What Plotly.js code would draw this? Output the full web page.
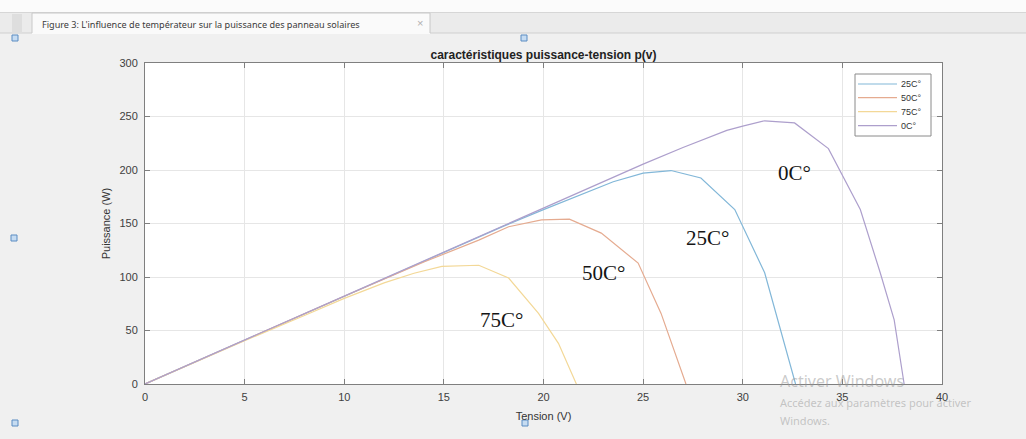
<!DOCTYPE html>
<html>
<head>
<meta charset="utf-8">
<script src="https://cdn.plot.ly/plotly-3.0.1.min.js"></script>
<style>html,body{margin:0;padding:0;background:#f0f0f0;}#chart{width:1026px;height:439px;}</style>
</head>
<body>
<div id="chart"></div>
<script>
// ---- data ----
const seriesNames = ["25C°", "50C°", "75C°", "0C°"];

const volt_25C = [0, 5, 10, 15, 18, 20, 22, 23.5, 25, 26.4, 27.9, 29.6, 31.1, 32.65];
const pow_25C  = [0, 41, 82.2, 123, 147.5, 163, 178, 189, 197, 199.5, 192.5, 163, 104, 0];

const volt_50C = [0, 5, 10, 14, 16.75, 18.25, 19.9, 21.3, 22.9, 24.75, 25.9, 27.15];
const pow_50C  = [0, 41, 82, 114, 134.5, 147, 153.3, 154, 141, 113, 66, 0];

const volt_75C = [0, 5, 8, 10, 12, 13.5, 14.9, 16.75, 18.25, 19.75, 20.75, 21.65];
const pow_75C  = [0, 40.5, 64, 80, 94.5, 103.5, 110, 111, 99, 66, 38, 0];

const volt_0C  = [0, 5, 10, 15, 20, 25, 27, 29.2, 30, 31.1, 32.6, 34.3, 35.9, 36.9, 37.6, 38.1];
const pow_0C   = [0, 41, 82.3, 123.5, 164.6, 205.5, 221, 237, 241, 246, 244, 220, 163, 104, 60, 0];

const curveLabels = ["0C°", "25C°", "50C°", "75C°"];
const curveLabelX = [32.6, 28.25, 23.0, 17.9];
const curveLabelY = [197, 136, 104, 60];

const xTicks = [0, 5, 10, 15, 20, 25, 30, 35, 40];
const yTicks = [0, 50, 100, 150, 200, 250, 300];

const tabTitle = "Figure 3: L'influence de températeur sur la puissance des panneau solaires";
const chartTitle = "caractéristiques puissance-tension p(v)";

// ---- layout helpers (pixel -> paper) ----
const L = 145, R = 942, T = 63, B = 384;
const W = R - L, H = B - T;
const X = px => (px - L) / W;
const Y = py => (B - py) / H;

const colors = ["#82b7d8", "#e5ab90", "#f3d897", "#ad9fcc"];
const xs = [volt_25C, volt_50C, volt_75C, volt_0C];
const ys = [pow_25C, pow_50C, pow_75C, pow_0C];

const traces = seriesNames.map((n, i) => ({
  type: "scatter", mode: "lines", name: n,
  x: xs[i], y: ys[i], showlegend: false,
  line: {color: colors[i], width: 1.2}
}));

function rect(x0, y0, x1, y1, fill, lineColor) {
  return {type: "rect", xref: "paper", yref: "paper", x0: X(x0), x1: X(x1), y0: Y(y0), y1: Y(y1),
    fillcolor: fill, line: {color: lineColor || fill, width: lineColor ? 1 : 0}, layer: "above"};
}
function seg(x0, y0, x1, y1, c, w) {
  return {type: "line", xref: "paper", yref: "paper", x0: X(x0), x1: X(x1), y0: Y(y0), y1: Y(y1),
    line: {color: c, width: w || 1}, layer: "above"};
}

const shapes = [
  rect(0, 0, 1026, 12, "#fbfbfb"),
  rect(0, 12, 1026, 33, "#ebebeb"),
  seg(0, 12.5, 1026, 12.5, "#d6d6d6"),
  seg(0, 33, 1026, 33, "#cfcfcf"),
  rect(12, 14, 22, 33, "#dedede"),
  rect(32, 13, 430, 34, "#fafafa"),
  seg(32, 13, 430, 13, "#c8c8c8"),
  seg(32, 13, 32, 33, "#c8c8c8"),
  seg(430, 13, 430, 33, "#c8c8c8")
];
// selection handles
[[15, 38], [524, 38], [14, 238], [15, 423], [525, 423]].forEach(p => {
  shapes.push(rect(p[0] - 3, p[1] - 3, p[0] + 3, p[1] + 3, "#c6dcf2", "#5b8cc2"));
});

const annotations = [
  {xref: "paper", yref: "paper", x: X(40), y: Y(24), text: tabTitle, showarrow: false,
   xanchor: "left", yanchor: "middle", font: {family: "Noto Sans, Arial", size: 9.1, color: "#3a3a3a"}},
  {xref: "paper", yref: "paper", x: X(420), y: Y(23), text: "×", showarrow: false,
   xanchor: "center", yanchor: "middle", font: {family: "Arial", size: 11, color: "#b0b0b0"}},
  {xref: "paper", yref: "paper", x: X(778), y: Y(381), text: "Activer Windows", showarrow: false,
   xanchor: "left", yanchor: "middle", font: {family: "Noto Sans, Arial", size: 16, color: "rgba(150,150,150,0.5)"}},
  {xref: "paper", yref: "paper", x: X(778), y: Y(402), text: "Accédez aux paramètres pour activer", showarrow: false,
   xanchor: "left", yanchor: "middle", font: {family: "Noto Sans, Arial", size: 11, color: "rgba(150,150,150,0.5)"}},
  {xref: "paper", yref: "paper", x: X(778), y: Y(420), text: "Windows.", showarrow: false,
   xanchor: "left", yanchor: "middle", font: {family: "Noto Sans, Arial", size: 11, color: "rgba(150,150,150,0.5)"}}
];
curveLabels.forEach((t, i) => annotations.push({
  x: curveLabelX[i], y: curveLabelY[i], text: t, showarrow: false,
  xanchor: "center", yanchor: "middle",
  font: {family: "Liberation Serif, Times New Roman", size: 21, color: "#151515"}
}));

// compact MATLAB-style legend box
const legX0 = 855, legX1 = 931, legY0 = 74, legY1 = 136;
const legRowY = [84, 97.7, 111.7, 125.7];
shapes.push(rect(legX0, legY0, legX1, legY1, "#ffffff", "#8a8a8a"));
seriesNames.forEach((n, i) => {
  shapes.push(seg(858, legRowY[i], 897, legRowY[i], colors[i], 1.2));
  annotations.push({xref: "paper", yref: "paper", x: X(899), y: Y(legRowY[i]), text: n, showarrow: false,
    xanchor: "left", yanchor: "middle", font: {family: "Liberation Sans, Arial", size: 9, color: "#333"}});
});

const axisCommon = {
  showline: true, linecolor: "#7f7f7f", linewidth: 1, mirror: "ticks",
  ticks: "inside", ticklen: 5, tickcolor: "#7f7f7f",
  showgrid: true, gridcolor: "#e6e6e6", zeroline: false,
  tickfont: {family: "Liberation Sans, Arial", size: 11, color: "#404040"},
  fixedrange: true
};

const layout = {
  width: 1026, height: 439,
  margin: {l: L, r: 1026 - R, t: T, b: 439 - B, pad: 0},
  paper_bgcolor: "#f0f0f0", plot_bgcolor: "#ffffff",
  title: {text: chartTitle, x: 0.5, xref: "paper", y: 1 - 55 / 439, yref: "container",
          xanchor: "center", yanchor: "middle",
          font: {family: "Liberation Sans, Arial", size: 12, color: "#222", weight: "bold"}},
  xaxis: Object.assign({}, axisCommon, {range: [0, 40], tickvals: xTicks, ticktext: xTicks.map(String),
          ticklabelstandoff: 3,
          title: {text: "Tension (V)", standoff: 10, font: {family: "Liberation Sans, Arial", size: 11, color: "#333"}}}),
  yaxis: Object.assign({}, axisCommon, {range: [0, 300], tickvals: yTicks, ticktext: yTicks.map(String),
          ticklabelstandoff: 4,
          title: {text: "Puissance (W)", standoff: 6, font: {family: "Liberation Sans, Arial", size: 11, color: "#333"}}}),
  shapes: shapes,
  annotations: annotations,
  showlegend: false
};

Plotly.newPlot("chart", traces, layout, {displayModeBar: false, staticPlot: true});
</script>
</body>
</html>
